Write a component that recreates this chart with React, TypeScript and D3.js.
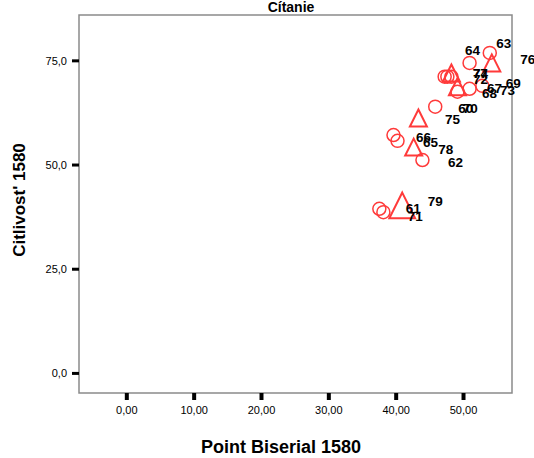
import React from "react";
import * as d3 from "d3";

// Data
const caseLabels = ["63","64","76","74","77","72","60","69","73","67","68","70","75","66","65","78","62","61","71","79"];
const pointBiserial = [53.9,50.9,54.2,48.2,47.6,48.2,47.2,52.8,50.9,49.1,49.1,45.8,43.3,39.6,40.2,42.6,43.9,37.5,38.1,40.9];
const citlivost = [76.9,74.5,74.5,71.2,71.2,72.1,71.2,69.0,68.3,68.8,67.6,64.0,61.3,57.2,55.8,54.3,51.2,39.5,38.7,40.3];
const markerType = ["c","c","t","c","c","t","c","c","c","t","c","c","t","c","c","t","c","c","c","t"];
const markerCount = [1,1,1,1,1,1,1,1,1,1,1,1,1,1,1,1,1,1,1,2];
const xTicks = [0,10,20,30,40,50];
const yTicks = [0,25,50,75];

// label offsets (px) relative to marker
const labelDx = [14,3,36,29,33,29,21,31,38,37,32,35,34,30,33,32,33,34,32,33];
const labelDy = [-9,-12,-3,-3,-3,7,32,-2,2,2,2,2,2,2,2,2,2,0,4,-4];

const W = 534, H = 458;
const L = 79, R = 512, T = 15, B = 393;

export default function App() {
  const x = d3.scaleLinear().domain([-7.1, 57.2]).range([L, R]);
  const y = d3.scaleLinear().domain([-4.7, 86]).range([B, T]);
  const red = "#ff3a3a";
  const fmtX = (v: number) => v.toFixed(2).replace(".", ",");
  const fmtY = (v: number) => v.toFixed(1).replace(".", ",");

  const tri = (cx: number, cy: number, s: number) => {
    const h = s;
    return `M${cx},${cy - h / 2}L${cx + s / 2},${cy + h / 2}L${cx - s / 2},${cy + h / 2}Z`;
  };

  return (
    <svg width={W} height={H} style={{ position: "absolute", left: 0, top: 0, display: "block" }}
      fontFamily="Arial, 'Liberation Sans', sans-serif">
      <rect x={0} y={0} width={W} height={H} fill="#fff" />
      <text x={291} y={7} textAnchor="middle" dominantBaseline="central" fontWeight="bold" fontSize={14}>Cítanie</text>
      <rect x={L} y={T} width={R - L} height={B - T} fill="none" stroke="#8a8a8a" strokeWidth={1.5} />
      {yTicks.map((t) => (
        <g key={"y" + t}>
          <line x1={72} x2={L} y1={y(t)} y2={y(t)} stroke="#000" strokeWidth={3} />
          <text x={67} y={y(t)} textAnchor="end" dominantBaseline="central" fontSize={11}>{fmtY(t)}</text>
        </g>
      ))}
      {xTicks.map((t) => (
        <g key={"x" + t}>
          <line x1={x(t)} x2={x(t)} y1={B} y2={B + 7} stroke="#000" strokeWidth={4} />
          <text x={x(t)} y={410} textAnchor="middle" dominantBaseline="central" fontSize={11}>{fmtX(t)}</text>
        </g>
      ))}
      <text x={281} y={447} textAnchor="middle" dominantBaseline="central" fontWeight="bold" fontSize={18}>Point Biserial 1580</text>
      <text transform={`translate(19,200) rotate(-90)`} textAnchor="middle" dominantBaseline="central" fontWeight="bold" fontSize={17}>Citlivost' 1580</text>
      {pointBiserial.map((v, i) => {
        const cx = x(v), cy = y(citlivost[i]);
        return markerType[i] === "c" ? (
          <circle key={"m" + i} cx={cx} cy={cy} r={6.5} fill="none" stroke={red} strokeWidth={1.5} />
        ) : (
          <path key={"m" + i} d={tri(cx, cy, 17 * Math.pow(markerCount[i], 0.6))} fill="none" stroke={red} strokeWidth={2} strokeLinejoin="miter" />
        );
      })}
      {pointBiserial.map((v, i) => (
        <text key={"l" + i} x={x(v) + labelDx[i]} y={y(citlivost[i]) + labelDy[i]} textAnchor="middle"
          dominantBaseline="central" fontWeight="bold" fontSize={13.5}>{caseLabels[i]}</text>
      ))}
    </svg>
  );
}
